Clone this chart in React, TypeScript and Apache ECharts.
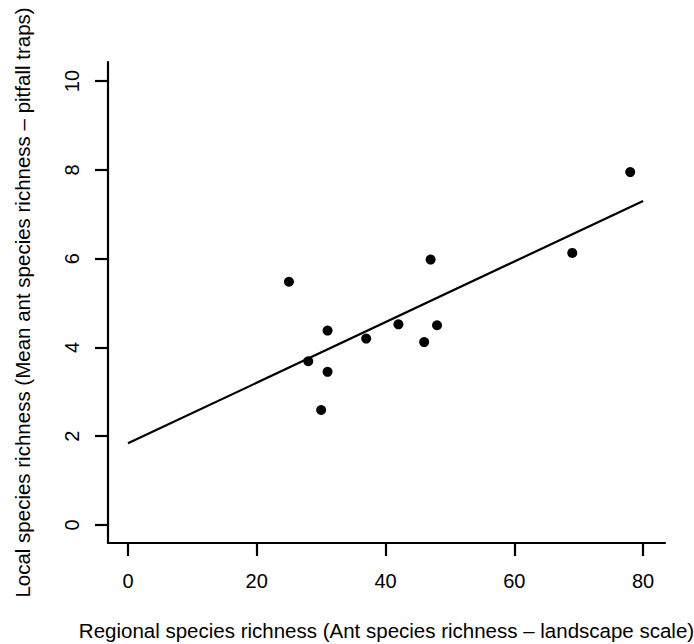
import React, { useEffect, useRef } from "react";
import * as echarts from "echarts";

const regionalRichness = [25, 31, 28, 31, 30, 37, 42, 46, 47, 48, 69, 78];
const localRichness = [5.48, 4.38, 3.69, 3.45, 2.59, 4.2, 4.52, 4.12, 5.98, 4.5, 6.13, 7.95];
const fitLineX = [0, 80];
const fitLineY = [1.84, 7.3];
const xTicks = [0, 20, 40, 60, 80];
const yTicks = [0, 2, 4, 6, 8, 10];
const xTitle = "Regional species richness (Ant species richness \u2013 landscape scale)";
const yTitle = "Local species richness (Mean ant species richness \u2013 pitfall traps)";

const FONT = "'Liberation Sans', Arial, Helvetica, sans-serif";

export default function App() {
  const ref = useRef<HTMLDivElement>(null);
  useEffect(() => {
    if (!ref.current) return;
    const chart = echarts.init(ref.current, undefined, { renderer: "svg" });
    const points = regionalRichness.map((x, i) => [x, localRichness[i]]);
    const fit = fitLineX.map((x, i) => [x, fitLineY[i]]);
    chart.setOption({
      animation: false,
      backgroundColor: "#ffffff",
      grid: { left: 108, right: 29, top: 62, bottom: 101, containLabel: false, outerBoundsMode: "none" },
      xAxis: {
        type: "value",
        min: -3.1,
        max: 83.4,
        name: xTitle,
        nameLocation: "middle",
        nameGap: 77,
        nameTextStyle: { fontFamily: FONT, fontSize: 20.5, color: "#000" },
        axisLine: { show: true, onZero: false, lineStyle: { color: "#000", width: 2.2 } },
        axisTick: { show: true, customValues: xTicks, length: 13, lineStyle: { color: "#000", width: 2.2 } },
        axisLabel: { show: true, customValues: xTicks, margin: 28, fontFamily: FONT, fontSize: 20, color: "#000" },
        splitLine: { show: false },
      },
      yAxis: {
        type: "value",
        min: -0.405,
        max: 10.43,
        name: yTitle,
        nameLocation: "middle",
        nameGap: 75,
        nameRotate: 90,
        nameTextStyle: { fontFamily: FONT, fontSize: 20.5, color: "#000" },
        axisLine: { show: true, onZero: false, lineStyle: { color: "#000", width: 2.2 } },
        axisTick: { show: true, customValues: yTicks, length: 13, lineStyle: { color: "#000", width: 2.2 } },
        axisLabel: { show: true, customValues: yTicks, rotate: 90, margin: 26, fontFamily: FONT, fontSize: 20, color: "#000" },
        splitLine: { show: false },
      },
      series: [
        {
          type: "line",
          data: fit,
          showSymbol: false,
          symbol: "none",
          lineStyle: { color: "#000", width: 2.2 },
          z: 2,
        },
        {
          type: "scatter",
          data: points,
          symbol: "circle",
          symbolSize: 10,
          itemStyle: { color: "#000", opacity: 1 },
          z: 3,
        },
      ],
    });
    return () => chart.dispose();
  }, []);
  return (
    <div
      ref={ref}
      style={{ position: "absolute", left: 0, top: 0, width: 694, height: 644 }}
    />
  );
}
